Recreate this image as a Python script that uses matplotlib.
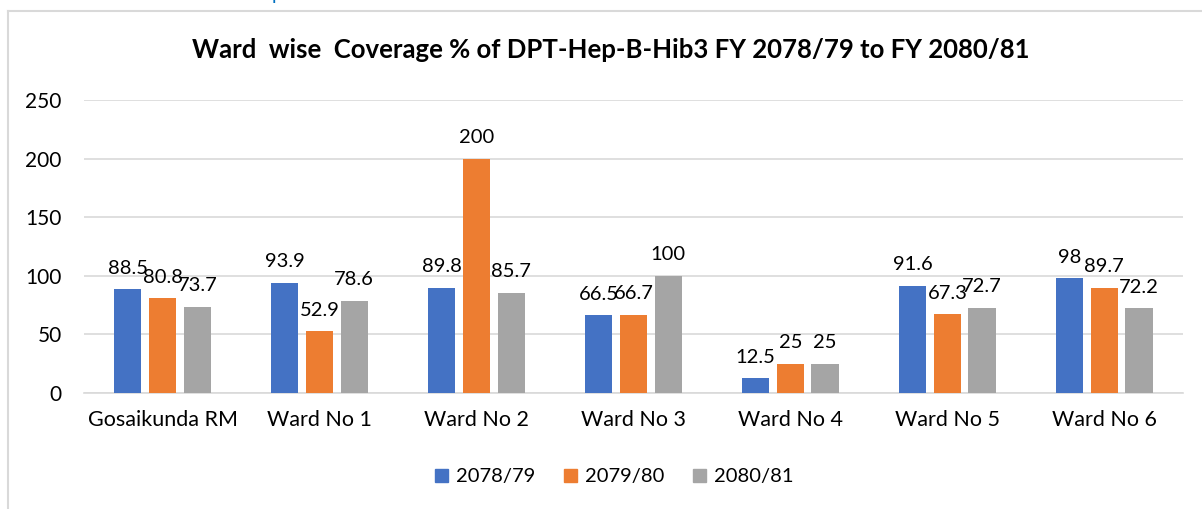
import matplotlib.pyplot as plt
import numpy as np
from matplotlib.lines import Line2D

# data
wards = ['Gosaikunda RM', 'Ward No 1', 'Ward No 2', 'Ward No 3', 'Ward No 4', 'Ward No 5', 'Ward No 6']
fy_7879 = [88.5, 93.9, 89.8, 66.5, 12.5, 91.6, 98]
fy_7980 = [80.8, 52.9, 200, 66.7, 25, 67.3, 89.7]
fy_8081 = [73.7, 78.6, 85.7, 100, 25, 72.7, 72.2]
series_names = ['2078/79', '2079/80', '2080/81']
colors = ['#4472C4', '#ED7D31', '#A5A5A5']

plt.rcParams['font.family'] = ['Lato', 'DejaVu Sans']

fig = plt.figure(figsize=(12.02, 5.09), dpi=100)
ax = fig.add_axes([0.0699, 0.2279, 0.9141, 0.5756])

x = np.arange(len(wards))
step = 0.222
width = 0.175
for i, (vals, name, c) in enumerate(zip([fy_7879, fy_7980, fy_8081], series_names, colors)):
    xs = x + (i - 1) * step
    ax.bar(xs, vals, width=width, color=c, label=name, zorder=3)
    for xi, v in zip(xs, vals):
        ax.annotate('{:g}'.format(v), (xi, v), xytext=(0, 9), textcoords='offset points',
                    ha='center', va='bottom', fontsize=14.5, color='#000000')

ax.set_xlim(-0.5, len(wards) - 0.5)
ax.set_ylim(0, 250)
ax.set_yticks([0, 50, 100, 150, 200, 250])
ax.set_xticks(x)
ax.set_xticklabels(wards, fontsize=15.5)
ax.tick_params(axis='y', labelsize=15, length=0, pad=16)
ax.tick_params(axis='x', length=0, pad=12)
ax.grid(axis='y', color='#D9D9D9', linewidth=1.2, zorder=0)
for s in ['top', 'right', 'left']:
    ax.spines[s].set_visible(False)
ax.spines['bottom'].set_color('#D9D9D9')
ax.spines['bottom'].set_linewidth(1.2)

fig.text(0.508, 0.902, 'Ward  wise  Coverage % of DPT-Hep-B-Hib3 FY 2078/79 to FY 2080/81',
         ha='center', va='center', fontsize=18.5, fontweight='bold')

handles = [plt.Rectangle((0, 0), 1, 1, color=c) for c in colors]
fig.legend(handles, series_names, loc='center', bbox_to_anchor=(0.511, 0.063), ncol=3,
           frameon=False, fontsize=14.5, handlelength=0.65, handleheight=0.65,
           handletextpad=0.4, columnspacing=1.4)

# outer chart frame (left and top edges visible)
fig.add_artist(Line2D([8 / 1202, 8 / 1202], [0, 1 - 11 / 509], color='#D9D9D9', lw=1.5))
fig.add_artist(Line2D([8 / 1202, 1], [1 - 11 / 509, 1 - 11 / 509], color='#D9D9D9', lw=1.5))

# cut-off heading fragment above the chart
fig.text(272 / 1202, 1.0, 'p', ha='left', va='baseline', fontsize=14, color='#0070C0')

fig.savefig('out.png', dpi=100)
